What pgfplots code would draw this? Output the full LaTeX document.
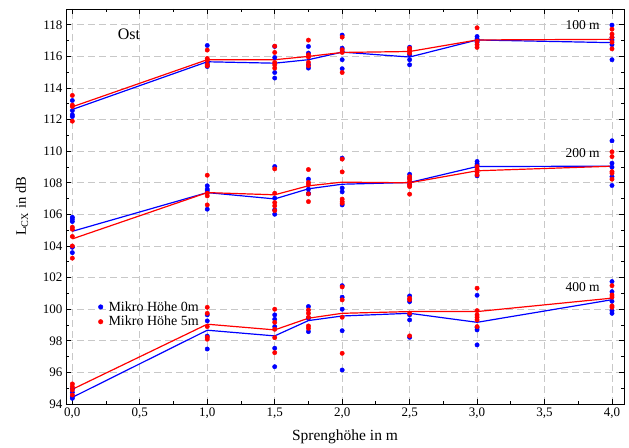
\documentclass[border=0pt]{standalone}
\usepackage{fontspec}
\setmainfont{Liberation Serif}
\usepackage{pgfplots}
\usepackage{pgfplotstable}
\pgfplotsset{compat=1.18}
\definecolor{mblue}{RGB}{0,0,255}
\definecolor{mred}{RGB}{255,0,0}
\definecolor{gridgray}{RGB}{200,200,200}

% single measurements, microphone height 0 m
\pgfplotstableread{
x y
0 113.21
0 112.57
0 112.30
0 112.19
1 116.69
1 115.36
1 115.50
1 115.60
1.5 116.63
1.5 115.93
1.5 114.98
1.5 114.63
1.75 116.63
1.75 116.21
1.75 115.47
1.75 115.26
2 117.35
2 116.52
2 116.31
2 115.79
2 115.22
2.5 116.58
2.5 116.10
2.5 115.79
2.5 115.47
3 117.26
3 117.10
3 116.90
3 117.00
4 117.98
4 117.04
4 116.74
4 115.79
4 117.20
0 105.82
0 105.70
0 105.55
0 103.92
0 103.58
1 107.81
1 107.49
1 106.33
1 107.60
1.5 109.03
1.5 107.03
1.5 106.29
1.5 106.01
1.75 108.23
1.75 107.60
1.75 107.34
1.75 107.30
2 109.56
2 107.67
2 107.43
2 106.60
2.5 108.54
2.5 108.30
2.5 107.90
3 109.35
3 109.20
3 108.44
3 109.10
4 110.66
4 109.24
4 108.99
4 108.39
4 107.83
0 94.97
0 94.74
0 94.46
0 94.36
1 99.64
1 99.26
1 97.48
1 98.30
1.5 99.64
1.5 99.36
1.5 98.90
1.5 97.53
1.5 96.36
1.75 100.17
1.75 99.43
1.75 98.58
2 101.49
2 100.76
2 100.00
2 98.64
2 96.15
2.5 100.84
2.5 100.48
2.5 99.64
2.5 99.32
2.5 98.22
3 100.88
3 98.83
3 98.69
3 97.74
4 101.75
4 101.11
4 99.91
4 99.74
4 100.50
}\dotsZero

% single measurements, microphone height 5 m
\pgfplotstableread{
x y
0 113.53
0 112.92
0 112.83
0 111.90
1 116.40
1 115.87
1 115.74
1 115.47
1 115.40
1.5 116.65
1.5 116.25
1.5 115.62
1.5 115.47
1.5 115.26
1.75 117.03
1.75 116.10
1.75 115.96
1.75 115.62
1.75 115.40
2 117.22
2 116.42
2 116.25
2 114.98
2.5 116.52
2.5 116.40
2.5 116.31
2.5 116.20
3 117.81
3 116.97
3 116.74
3 116.57
4 117.72
4 117.41
4 117.20
4 116.48
4 116.90
0 105.19
0 105.06
0 104.60
0 104.00
0 103.23
1 108.48
1 107.34
1 107.17
1 106.60
1.5 108.88
1.5 107.34
1.5 106.75
1.5 106.54
1.5 106.24
1.75 108.84
1.75 108.02
1.75 107.87
1.75 107.30
1.75 106.81
2 109.50
2 108.69
2 106.97
2 106.81
2 106.71
2.5 108.39
2.5 108.23
2.5 108.08
2.5 107.87
2.5 107.76
2.5 107.28
3 109.03
3 108.86
3 108.67
3 108.50
4 109.96
4 109.66
4 108.71
4 108.61
4 108.23
0 95.27
0 95.10
0 94.89
0 94.57
1 100.12
1 99.74
1 98.90
1 98.22
1 98.10
1.5 100.00
1.5 99.17
1.5 98.73
1.5 98.20
1.5 97.25
1.75 99.95
1.75 99.74
1.75 99.49
1.75 98.94
1.75 98.79
2 101.41
2 100.59
2 99.49
2 97.21
2.5 100.69
2.5 100.60
2.5 99.74
2.5 98.31
3 101.33
3 99.91
3 99.64
3 99.49
3 99.32
3 98.90
4 101.49
4 100.90
4 100.76
4 100.21
4 100.12
}\dotsFive

% mean values, one column per distance
\pgfplotstableread{
x   a100   b100   a200   b200   a400  b400
0    112.64 112.81 104.93 104.45 94.42 94.93
1    115.66 115.79 107.38 107.38 98.67 99.05
1.5  115.57 115.79 106.98 107.24 98.31 98.69
1.75 115.79 116.00 107.62 107.81 99.28 99.43
2    116.27 116.25 107.91 108.04 99.57 99.74
2.5  115.96 116.31 108.02 108.00 99.74 99.85
3    117.04 117.04 109.03 108.76 99.17 99.85
4    116.87 117.08 109.05 109.05 100.60 100.70
}\means

\begin{document}
\begin{tikzpicture}
\begin{axis}[
  name=ax,
  scale only axis,
  width=558bp, height=395bp,
  xmin=-0.047, xmax=4.089,
  ymin=94, ymax=119,
  xtick={0,0.5,...,4},
  ytick={94,96,...,118},
  minor x tick num=1,
  minor y tick num=1,
  tick pos=both,
  tick align=inside,
  major tick length=5bp,
  minor tick length=3bp,
  tick style={black, line width=0.8bp},
  axis line style={black, line width=0.9bp},
  grid=major,
  major grid style={gridgray, line width=0.9bp, dash pattern=on 7bp off 4bp},
  /pgf/number format/assume math mode=true,
  xticklabel style={/pgf/number format/.cd, fixed, fixed zerofill, precision=1, use comma},
  ticklabel style={font=\fontsize{13bp}{15bp}\selectfont},
  legend style={draw=none, fill=none, at={(rel axis cs:0.052,0.27)}, anchor=north west,
    font=\fontsize{14bp}{16bp}\selectfont, row sep=0bp, nodes={inner sep=1.8bp}},
  legend cell align=left,
  legend image code/.code={\fill (0bp,0bp) circle (2.3bp);
    \path[draw=none, fill=none] (-2.3bp,0) rectangle (6bp,0.1bp);},
  clip=false,
]
  \addplot[only marks, mark=*, mark size=2.2bp, color=mblue] table {\dotsZero};
  \addlegendentry{Mikro Höhe 0m}
  \addplot[only marks, mark=*, mark size=2.2bp, color=mred] table {\dotsFive};
  \addlegendentry{Mikro Höhe 5m}

  \addplot[mblue, line width=1.2bp, forget plot] table[y=a100] {\means};
  \addplot[mblue, line width=1.2bp, forget plot] table[y=a200] {\means};
  \addplot[mblue, line width=1.2bp, forget plot] table[y=a400] {\means};
  \addplot[mred, line width=1.2bp, forget plot] table[y=b100] {\means};
  \addplot[mred, line width=1.2bp, forget plot] table[y=b200] {\means};
  \addplot[mred, line width=1.2bp, forget plot] table[y=b400] {\means};

  \node[font=\fontsize{16bp}{18bp}\selectfont] at (axis cs:0.42,117.43) {Ost};
  \node[anchor=east, inner sep=0pt, font=\fontsize{13.5bp}{16bp}\selectfont] at (axis cs:3.91,117.98) {100 m};
  \node[anchor=east, inner sep=0pt, font=\fontsize{13.5bp}{16bp}\selectfont] at (axis cs:3.91,109.87) {200 m};
  \node[anchor=east, inner sep=0pt, font=\fontsize{13.5bp}{16bp}\selectfont] at (axis cs:3.91,101.37) {400 m};
\end{axis}
\node[font=\fontsize{15.5bp}{18bp}\selectfont] at ([yshift=-33bp]ax.south) {Sprenghöhe in m};
\node[rotate=90, font=\fontsize{14.5bp}{18bp}\selectfont] at ([xshift=-44bp]ax.west) {L\textsubscript{CX} in dB};
\pgfresetboundingbox
\path[use as bounding box] ([shift={(-66bp,-44bp)}]ax.south west) rectangle ([shift={(5bp,9bp)}]ax.north east);
\end{tikzpicture}
\end{document}
